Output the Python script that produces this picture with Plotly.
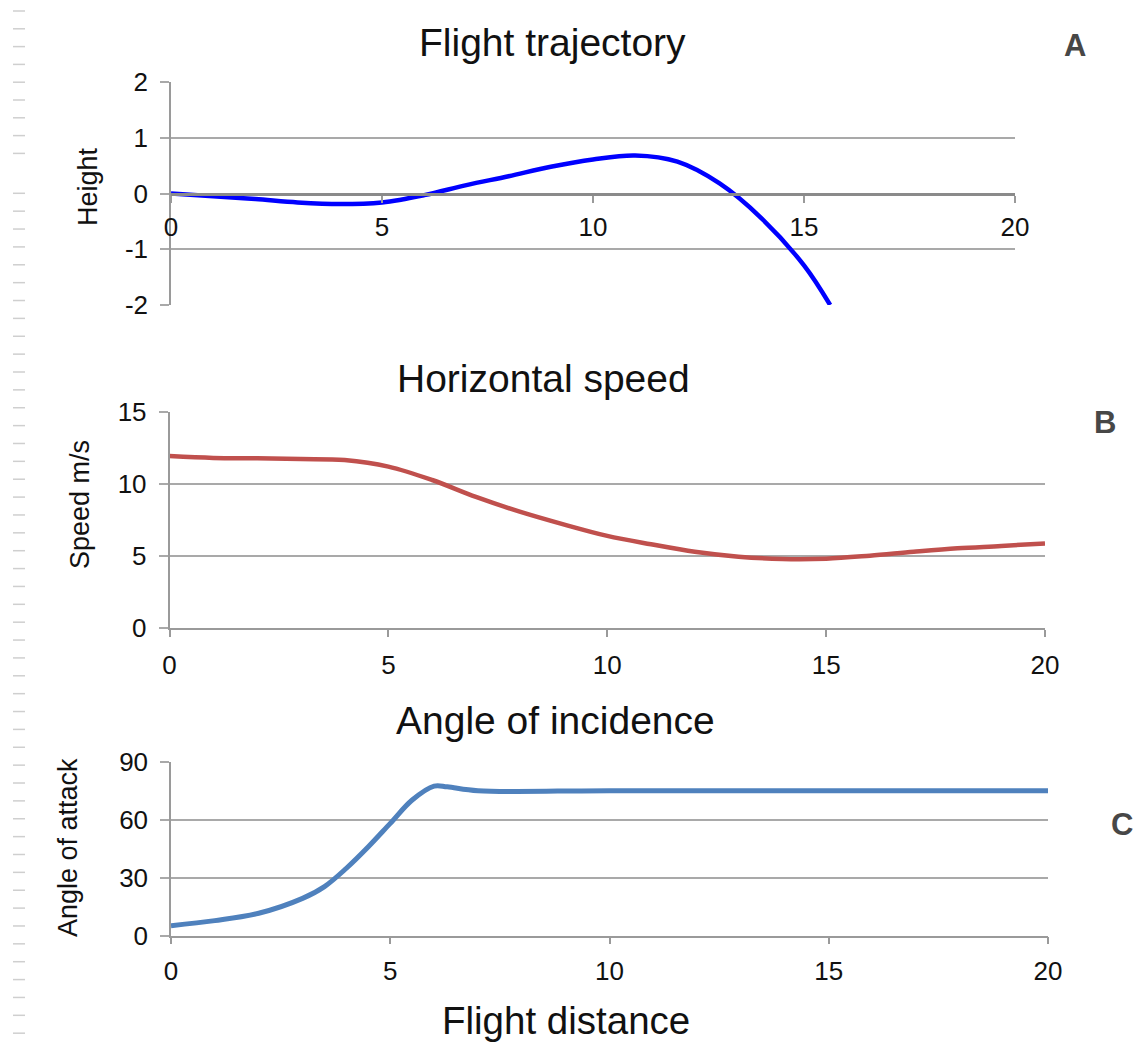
import plotly.graph_objects as go

W, H = 1147, 1048

# ---- data ----
traj_x = [0, 1, 2, 3, 4, 5, 6, 7, 8, 9, 10, 11, 12, 13, 14, 15, 15.62]
traj_y = [0, -0.05, -0.1, -0.16, -0.19, -0.16, -0.03, 0.15, 0.31, 0.48, 0.61, 0.68, 0.57, 0.18, -0.45, -1.29, -2.0]

speed_x = [0, 1, 2, 3, 4, 5, 6, 7, 8, 9, 10, 11, 12, 13, 14, 15, 16, 17, 18, 19, 20]
speed_y = [11.93, 11.8, 11.77, 11.72, 11.65, 11.2, 10.27, 9.1, 8.08, 7.2, 6.4, 5.82, 5.3, 4.96, 4.8, 4.82, 5.03, 5.3, 5.54, 5.7, 5.88]

angle_x = [0, 1, 2, 3, 3.5, 4, 4.5, 5, 5.5, 6, 6.3, 7, 10, 15, 20]
angle_y = [5.2, 7.8, 11.6, 19.3, 25.4, 34.9, 46, 58.1, 70.2, 77.4, 77, 75, 75, 75, 75]

x_ticks = [0, 5, 10, 15, 20]
height_ticks = [-2, -1, 0, 1, 2]
height_labels = ["-2", "-1", "0", "1", "2"]
speed_ticks = [0, 5, 10, 15]
angle_ticks = [0, 30, 60, 90]

titles = ["Flight trajectory", "Horizontal speed", "Angle of incidence"]
y_titles = ["Height", "Speed m/s", "Angle of attack"]
panel_letters = ["A", "B", "C"]
x_title = "Flight distance"

FONT = "Liberation Sans, Arial, sans-serif"
GRID = "#a9a9a9"
AXIS = "#9a9a9a"


def px(x):
    return x / W


def py(y):
    return 1 - y / H


fig = go.Figure()
fig.add_trace(go.Scatter(x=traj_x, y=traj_y, mode="lines", xaxis="x", yaxis="y",
                         line=dict(color="#0000ff", width=4.5, shape="spline", smoothing=1.0),
                         showlegend=False))
fig.add_trace(go.Scatter(x=speed_x, y=speed_y, mode="lines", xaxis="x2", yaxis="y2",
                         line=dict(color="#c0504d", width=4.5, shape="spline", smoothing=1.0),
                         showlegend=False))
fig.add_trace(go.Scatter(x=angle_x, y=angle_y, mode="lines", xaxis="x3", yaxis="y3",
                         line=dict(color="#4f81bd", width=5, shape="spline", smoothing=1.0),
                         showlegend=False))

tickfont = dict(family=FONT, size=26, color="#111")

common_x = dict(range=[0, 20], tickvals=x_ticks, showgrid=False, zeroline=False,
                ticks="outside", ticklen=7, tickcolor=AXIS, tickwidth=1.5,
                tickfont=tickfont, fixedrange=True, automargin=False)
common_y = dict(showgrid=True, gridcolor=GRID, gridwidth=1.5, zeroline=False,
                showline=True, linecolor=AXIS, linewidth=1.5,
                ticks="outside", ticklen=9, tickcolor=GRID, tickwidth=1.5,
                tickfont=tickfont, ticklabelstandoff=7, fixedrange=True, automargin=False)

# top panel: x axis sits on the zero line
top_dom_y = [py(305), py(82)]
zero_pos = top_dom_y[0] + (top_dom_y[1] - top_dom_y[0]) * 0.5

fig.update_layout(
    width=W, height=H,
    margin=dict(l=0, r=0, t=0, b=0, autoexpand=False),
    paper_bgcolor="white", plot_bgcolor="white",
    font=dict(family=FONT, color="#111"),
    xaxis=dict(domain=[px(171), px(1015)], anchor="free", position=zero_pos,
               showline=True, linecolor="#8a8a8a", linewidth=3,
               ticklabelstandoff=2, **common_x),
    yaxis=dict(domain=top_dom_y, range=[-2, 2], tickvals=height_ticks, ticktext=height_labels,
               anchor="x", **common_y),
    xaxis2=dict(domain=[px(169.5), px(1045)], anchor="y2", showline=True,
                linecolor=AXIS, linewidth=1.5, ticklabelstandoff=6, **common_x),
    yaxis2=dict(domain=[py(628.3), py(411.7)], range=[0, 15], tickvals=speed_ticks, anchor="x2", **common_y),
    xaxis3=dict(domain=[px(171), px(1048)], anchor="y3", showline=True,
                linecolor=AXIS, linewidth=1.5, ticklabelstandoff=4, **common_x),
    yaxis3=dict(domain=[py(935.7), py(761.7)], range=[0, 90], tickvals=angle_ticks, anchor="x3", **common_y),
)

ann = []
title_pos = [(552, 42), (543, 378), (555, 720)]
for t, (x, y) in zip(titles, title_pos):
    ann.append(dict(text=t, x=px(x), y=py(y), xref="paper", yref="paper",
                    xanchor="center", yanchor="middle", showarrow=False,
                    font=dict(family=FONT, size=39, color="#111")))
ytitle_pos = [(88, 187), (80, 505), (68, 848)]
for t, (x, y) in zip(y_titles, ytitle_pos):
    ann.append(dict(text=t, x=px(x), y=py(y), xref="paper", yref="paper",
                    xanchor="center", yanchor="middle", showarrow=False, textangle=-90,
                    font=dict(family=FONT, size=27, color="#111")))
letter_pos = [(1075, 45), (1105, 422), (1122, 824)]
for t, (x, y) in zip(panel_letters, letter_pos):
    ann.append(dict(text="<b>" + t + "</b>", x=px(x), y=py(y), xref="paper", yref="paper",
                    xanchor="center", yanchor="middle", showarrow=False,
                    font=dict(family=FONT, size=31, color="#474747")))
ann.append(dict(text=x_title, x=px(566), y=py(1020), xref="paper", yref="paper",
                xanchor="center", yanchor="middle", showarrow=False,
                font=dict(family=FONT, size=38.5, color="#111")))
fig.update_layout(annotations=ann)

# decorative ruler dashes at the left edge
shapes = []
ys = [11 + 17.8 * i for i in range(9)]
y = 193.3
while y < 1045:
    ys.append(y)
    y += 17.87
for yy in ys:
    shapes.append(dict(type="line", xref="paper", yref="paper",
                       x0=px(13), x1=px(25), y0=py(yy), y1=py(yy),
                       line=dict(color="#cfcfcf", width=1.5)))
fig.update_layout(shapes=shapes)

fig.write_html("out.html")
